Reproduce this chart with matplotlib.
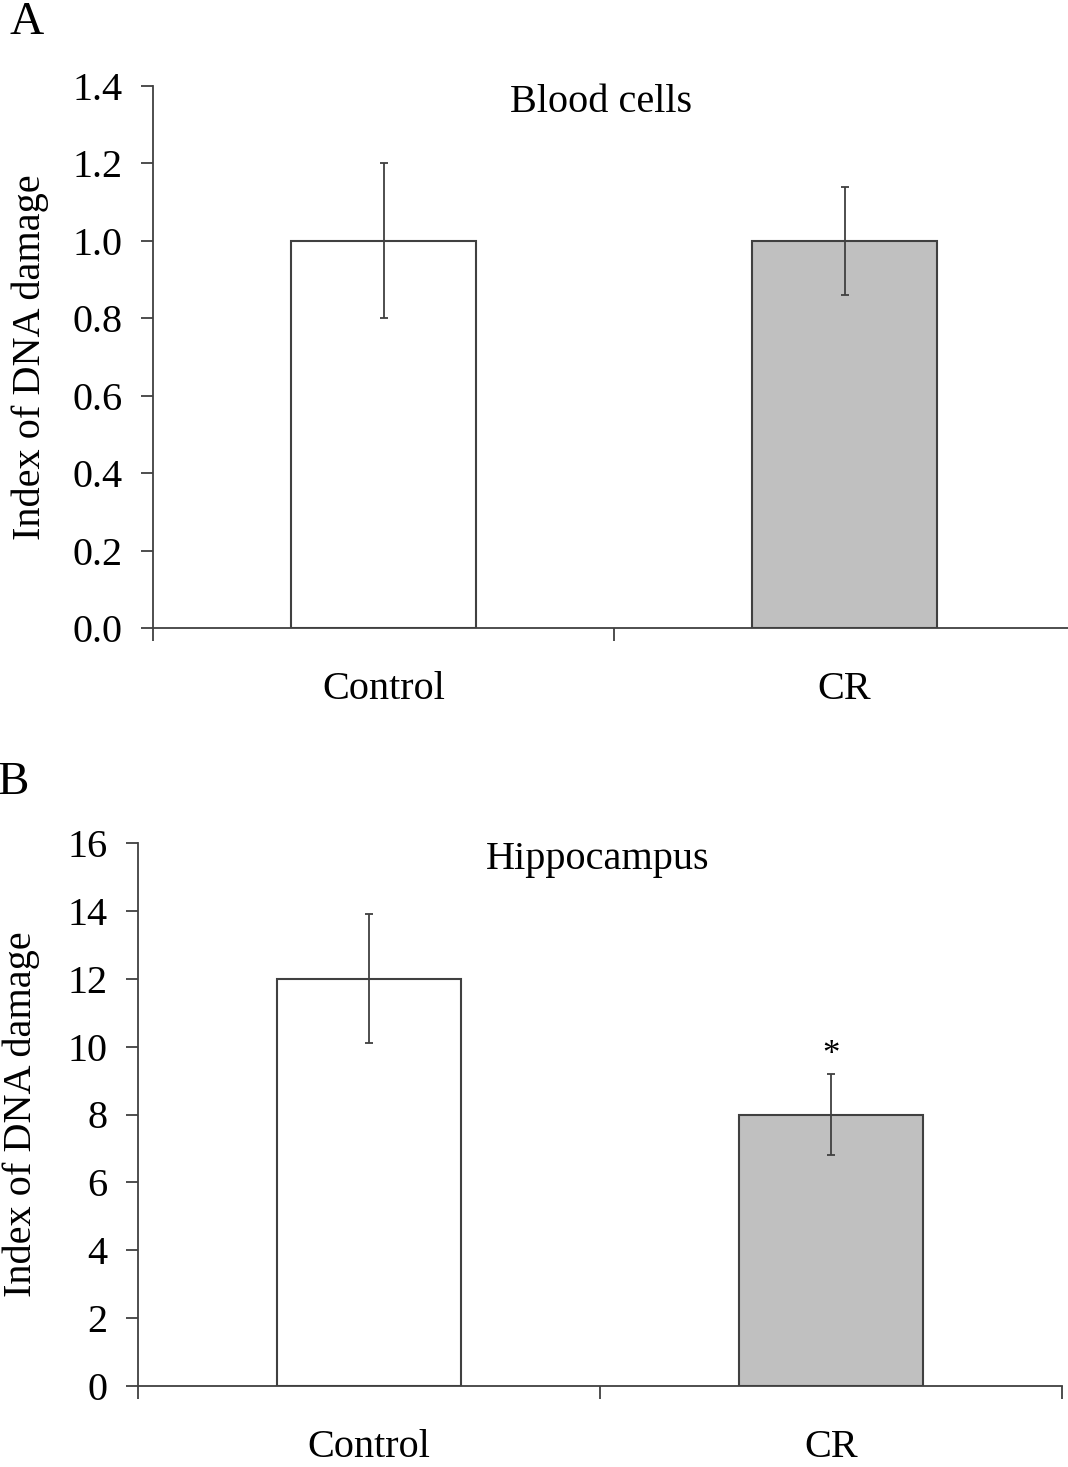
import matplotlib
matplotlib.use("Agg")
import matplotlib.pyplot as plt
import numpy as np

plt.rcParams['font.family'] = ['Liberation Serif', 'DejaVu Serif']

# Data
groups = ["Control", "CR"]
blood_means = [1.0, 1.0]
blood_err = [0.2, 0.14]
hippo_means = [12.0, 8.0]
hippo_err = [1.9, 1.2]
bar_colors = ["white", "#c0c0c0"]
blood_ticks = [0.0, 0.2, 0.4, 0.6, 0.8, 1.0, 1.2, 1.4]
hippo_ticks = [0, 2, 4, 6, 8, 10, 12, 14, 16]

W, H = 1068, 1467
fig = plt.figure(figsize=(W / 100, H / 100), dpi=100)

line_col = "#404040"


def panel(rect, means, errs, yticks, fmt, title, title_x, letter, letter_xy, ylabel_x,
          star=None):
    ax = fig.add_axes(rect)
    x = np.arange(len(groups)) + 0.5
    ax.bar(x, means, width=0.4, color=bar_colors, edgecolor=line_col, linewidth=1.5, zorder=2)
    ax.errorbar(x, means, yerr=errs, fmt="none", ecolor=line_col, elinewidth=1.3,
                capsize=3, capthick=1.3, zorder=3)
    ax.set_xlim(0, 2)
    ax.set_ylim(yticks[0], yticks[-1])
    ax.set_yticks(yticks)
    ax.set_yticklabels([fmt.format(t) for t in yticks])
    ax.set_xticks(x)
    ax.set_xticklabels(groups)
    ax.set_xticks([0, 1, 2], minor=True)
    ax.tick_params(axis="x", which="major", length=0, pad=31, labelsize=29)
    ax.tick_params(axis="x", which="minor", length=9, width=1.3, color=line_col, direction="out")
    ax.tick_params(axis="y", length=9, width=1.3, color=line_col, direction="out", pad=13,
                   labelsize=29)
    for s in ("top", "right"):
        ax.spines[s].set_visible(False)
    for s in ("left", "bottom"):
        ax.spines[s].set_color(line_col)
        ax.spines[s].set_linewidth(1.3)
    ax.set_ylabel("Index of DNA damage", fontsize=29)
    ax.yaxis.set_label_coords(ylabel_x, 0.5)
    ax.text(title_x, 0.97, title, transform=ax.transAxes, ha="center", va="center", fontsize=29)
    fig.text(letter_xy[0], letter_xy[1], letter, fontsize=34, ha="left", va="top")
    if star is not None:
        ax.text(x[1], star, "*", ha="center", va="center", fontsize=25)
    return ax


panel([153 / W, 839 / H, 922 / W, 542 / H], blood_means, blood_err, blood_ticks, "{:.1f}",
      "Blood cells", 0.486, "A", (10 / W, 1 - 2 / H), -0.113)
panel([138 / W, 81 / H, 924 / W, 543 / H], hippo_means, hippo_err, hippo_ticks, "{:.0f}",
      "Hippocampus", 0.498, "B", (-2 / W, 1 - 762 / H), -0.106, star=9.75)

fig.savefig("out.png", dpi=100)
